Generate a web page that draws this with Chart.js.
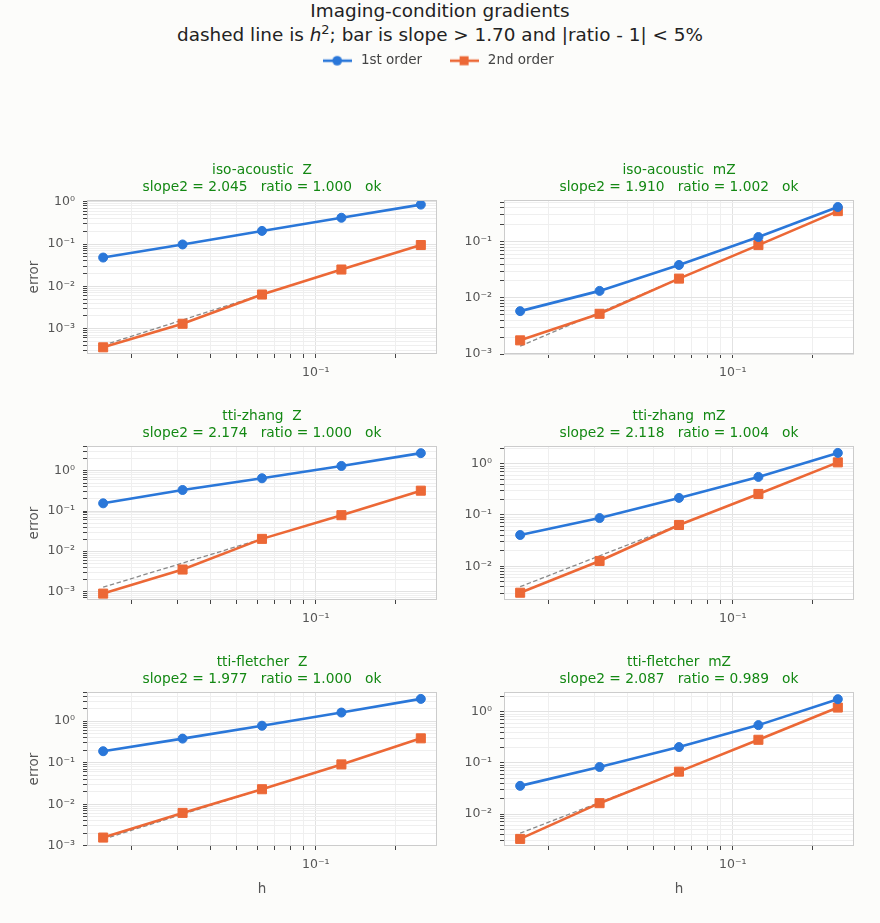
<!DOCTYPE html>
<html><head><meta charset="utf-8">
<script src="https://cdn.jsdelivr.net/npm/chart.js@4.4.1/dist/chart.umd.min.js"></script>
<style>
html,body{margin:0;padding:0;background:#fcfcfa;}
body{width:880px;height:923px;position:relative;overflow:hidden;font-family:"DejaVu Sans",sans-serif;}
.sup{position:absolute;left:0;width:880px;text-align:center;color:#222;font-size:18.4px;line-height:22px;white-space:pre;}
.sup sup{font-size:13px;line-height:0;vertical-align:7px;}
canvas{position:absolute;}
</style></head><body>
<div class="sup" style="top:0px">Imaging-condition gradients</div>
<div class="sup" style="top:24px">dashed line is <i>h</i><sup>2</sup>; bar is slope &gt; 1.70 and |ratio - 1| &lt; 5%</div>
<canvas id="legendChart" width="880" height="140" style="left:0;top:29px"></canvas>
<canvas id="p0"></canvas><canvas id="p1"></canvas><canvas id="p2"></canvas>
<canvas id="p3"></canvas><canvas id="p4"></canvas><canvas id="p5"></canvas>
<script>
// ---- data ----
const hValues = [0.015625, 0.03125, 0.0625, 0.125, 0.25];
const seriesNames = ['1st order', '2nd order'];
const panelTitles = ['iso-acoustic  Z', 'iso-acoustic  mZ', 'tti-zhang  Z', 'tti-zhang  mZ', 'tti-fletcher  Z', 'tti-fletcher  mZ'];
const slope2Values = ['2.045', '1.910', '2.174', '2.118', '1.977', '2.087'];
const ratioValues = ['1.000', '1.002', '1.000', '1.004', '1.000', '0.989'];
const statusValues = ['ok', 'ok', 'ok', 'ok', 'ok', 'ok'];

const isoZ1st   = [0.048, 0.098, 0.205, 0.42, 0.86];
const isoZ2nd   = [3.6e-4, 1.3e-3, 6.4e-3, 0.025, 0.095];
const isoMZ1st  = [0.0058, 0.0133, 0.0385, 0.121, 0.414];
const isoMZ2nd  = [0.00175, 0.0052, 0.022, 0.087, 0.35];
const zhangZ1st  = [0.156, 0.335, 0.656, 1.33, 2.77];
const zhangZ2nd  = [8.8e-4, 3.5e-3, 0.0203, 0.079, 0.322];
const zhangMZ1st = [0.0407, 0.087, 0.215, 0.552, 1.62];
const zhangMZ2nd = [0.00305, 0.0127, 0.0638, 0.257, 1.06];
const fletZ1st   = [0.189, 0.38, 0.776, 1.61, 3.43];
const fletZ2nd   = [1.58e-3, 6.2e-3, 0.023, 0.091, 0.386];
const fletMZ1st  = [0.0356, 0.0835, 0.205, 0.552, 1.78];
const fletMZ2nd  = [0.00325, 0.0163, 0.0676, 0.285, 1.22];

// dashed h^2 reference line: values read at h = 1/64 and h = 1/16
const refH = [0.015625, 0.0625];
const refIsoZ    = [4.0e-4, 6.4e-3];
const refIsoMZ   = [1.38e-3, 0.022];
const refZhangZ  = [1.27e-3, 0.0203];
const refZhangMZ = [4.0e-3, 0.0638];
const refFletZ   = [1.44e-3, 0.023];
const refFletMZ  = [4.2e-3, 0.0676];

const xLimits = [0.01357, 0.2879];
const yMinValues = [2.5e-4, 1.0e-3, 6.1e-4, 2.2e-3, 9.9e-4, 2.36e-3];
const yMaxValues = [1.1, 0.55, 4.15, 2.2, 5.0, 2.45];

const first = [isoZ1st, isoMZ1st, zhangZ1st, zhangMZ1st, fletZ1st, fletMZ1st];
const second = [isoZ2nd, isoMZ2nd, zhangZ2nd, zhangMZ2nd, fletZ2nd, fletMZ2nd];
const refs = [refIsoZ, refIsoMZ, refZhangZ, refZhangMZ, refFletZ, refFletMZ];

// ---- style ----
const BLUE = '#2a77d9';
const ORANGE = '#ec6836';
const GREEN = '#138813';
const TXT = '#555555';
const FONT = '"DejaVu Sans", sans-serif';

const SUPS = {'-':'\u207B','0':'\u2070','1':'\u00B9','2':'\u00B2','3':'\u00B3','4':'\u2074','5':'\u2075','6':'\u2076','7':'\u2077','8':'\u2078','9':'\u2079'};
function isPow10(v){ const l = Math.log10(v); return Math.abs(l - Math.round(l)) < 1e-9; }
function powLabel(v){
  if (!isPow10(v)) return '';
  const e = String(Math.round(Math.log10(v)));
  return '10' + e.split('').map(c => SUPS[c]).join('');
}
function logTicks(min, max){
  const out = [];
  for (let e = Math.floor(Math.log10(min)) - 1; e <= Math.ceil(Math.log10(max)) + 1; e++) {
    for (let d = 1; d <= 9; d++) {
      const v = d * Math.pow(10, e);
      if (v >= min * 0.9999 && v <= max * 1.0001) out.push({value: v});
    }
  }
  return out;
}
const gridColor = ctx => (ctx.tick && isPow10(ctx.tick.value)) ? '#e2e2e2' : '#efefef';

const framePlugin = {
  id: 'frame',
  beforeDraw(chart){
    const a = chart.chartArea; if (!a) return;
    const c = chart.ctx; c.save(); c.fillStyle = '#ffffff';
    c.fillRect(a.left, a.top, a.right - a.left, a.bottom - a.top); c.restore();
  },
  afterDraw(chart){
    const a = chart.chartArea; if (!a) return;
    const c = chart.ctx; c.save(); c.strokeStyle = '#cccccc'; c.lineWidth = 1;
    c.strokeRect(Math.round(a.left) + 0.5, Math.round(a.top) + 0.5, Math.round(a.right - a.left) - 1, Math.round(a.bottom - a.top) - 1);
    c.restore();
  }
};

const plotTops = [200, 446, 692];
const PLOT_H = 154;
const TITLE_H = 50;

function makePanel(i){
  const col = i % 2, row = Math.floor(i / 2);
  const canvasLeft = col === 0 ? 24 : 450;
  const canvasWidth = col === 0 ? 426 : 430;
  const yAxisWidth = col === 0 ? 63 : 54;
  const padRight = col === 0 ? 13 : 26;
  const xAxisH = row === 2 ? 55 : 30;
  const cv = document.getElementById('p' + i);
  cv.width = canvasWidth; cv.height = TITLE_H + PLOT_H + xAxisH;
  cv.style.left = canvasLeft + 'px';
  cv.style.top = (plotTops[row] - TITLE_H) + 'px';
  const yMin = yMinValues[i], yMax = yMaxValues[i];

  new Chart(cv, {
    type: 'line',
    data: {
      datasets: [
        { label: seriesNames[0], data: hValues.map((h, k) => ({x: h, y: first[i][k]})),
          borderColor: BLUE, backgroundColor: BLUE, borderWidth: 2.6,
          pointStyle: 'circle', pointRadius: 4.5, pointBorderWidth: 1, pointBorderColor: BLUE, pointBackgroundColor: BLUE },
        { label: seriesNames[1], data: hValues.map((h, k) => ({x: h, y: second[i][k]})),
          borderColor: ORANGE, backgroundColor: ORANGE, borderWidth: 2.6,
          pointStyle: 'rect', pointRadius: 6.4, pointBorderWidth: 1, pointBorderColor: ORANGE, pointBackgroundColor: ORANGE },
        { label: 'h^2', data: refH.map((h, k) => ({x: h, y: refs[i][k]})),
          borderColor: '#8a8a8a', borderWidth: 1.3, borderDash: [4.5, 2.5], pointRadius: 0 }
      ]
    },
    options: {
      responsive: false, animation: false, devicePixelRatio: 1,
      layout: { padding: { top: 0, right: padRight, bottom: 0, left: 0 } },
      plugins: {
        legend: { display: false }, tooltip: { enabled: false },
        title: { display: true, color: GREEN, fullSize: false,
          text: [panelTitles[i], 'slope2 = ' + slope2Values[i] + '   ratio = ' + ratioValues[i] + '   ' + statusValues[i]],
          font: { family: FONT, size: 13.75, weight: 'normal', lineHeight: 1.24 },
          padding: { top: 12, bottom: 4 } }
      },
      scales: {
        x: { type: 'logarithmic', min: xLimits[0], max: xLimits[1], bounds: 'data',
          afterFit: s => { s.height = xAxisH; },
          afterBuildTicks: s => { s.ticks = logTicks(xLimits[0], xLimits[1]); },
          ticks: { callback: v => powLabel(v), color: TXT, autoSkip: false, maxRotation: 0, minRotation: 0,
            padding: 7, font: { family: FONT, size: 12.5 } },
          grid: { color: gridColor, lineWidth: 1, tickLength: 4, tickColor: '#444', drawTicks: true },
          border: { display: false },
          title: { display: row === 2, text: 'h', color: TXT, font: { family: FONT, size: 13.5 }, padding: { top: 0, bottom: 3 } } },
        y: { type: 'logarithmic', min: yMin, max: yMax, bounds: 'data',
          afterFit: s => { s.width = yAxisWidth; },
          afterBuildTicks: s => { s.ticks = logTicks(yMin, yMax); },
          ticks: { callback: v => powLabel(v), color: TXT, autoSkip: false, padding: 8,
            font: { family: FONT, size: 12.5 } },
          grid: { color: gridColor, lineWidth: 1, tickLength: 4, tickColor: '#444', drawTicks: true },
          border: { display: false },
          title: { display: col === 0, text: 'error', color: TXT, font: { family: FONT, size: 13.5 }, padding: { top: 2, bottom: 0 } } }
      }
    },
    plugins: [framePlugin]
  });
}
for (let i = 0; i < 6; i++) makePanel(i);

// ---- legend ----
function legendIcon(color, shape){
  const c = document.createElement('canvas'); c.width = 29; c.height = 12;
  const g = c.getContext('2d');
  g.strokeStyle = color; g.lineWidth = 2.6; g.beginPath(); g.moveTo(0, 6); g.lineTo(29, 6); g.stroke();
  g.fillStyle = color;
  if (shape === 'circle') { g.beginPath(); g.arc(14.5, 6, 4.8, 0, Math.PI * 2); g.fill(); }
  else { g.fillRect(10, 1.5, 9, 9); }
  return c;
}
const legendIcons = [legendIcon(BLUE, 'circle'), legendIcon(ORANGE, 'rect')];
new Chart(document.getElementById('legendChart'), {
  type: 'line',
  data: { datasets: [
    { label: seriesNames[0], data: [], borderColor: BLUE, backgroundColor: BLUE },
    { label: seriesNames[1], data: [], borderColor: ORANGE, backgroundColor: ORANGE }
  ] },
  options: {
    responsive: false, animation: false, devicePixelRatio: 1,
    layout: { padding: { right: 6 } },
    scales: { x: { display: false }, y: { display: false } },
    plugins: {
      tooltip: { enabled: false },
      legend: { display: true, position: 'top',
        labels: { usePointStyle: true, pointStyleWidth: 34, boxHeight: 12, padding: 25,
          color: '#444', font: { family: FONT, size: 13.5 },
          generateLabels: chart => chart.data.datasets.map((d, k) => ({
            text: d.label, pointStyle: legendIcons[k], fillStyle: d.borderColor, strokeStyle: d.borderColor,
            lineWidth: 0, hidden: false, datasetIndex: k, fontColor: '#444' })) } }
    }
  }
});
</script>
</body></html>
